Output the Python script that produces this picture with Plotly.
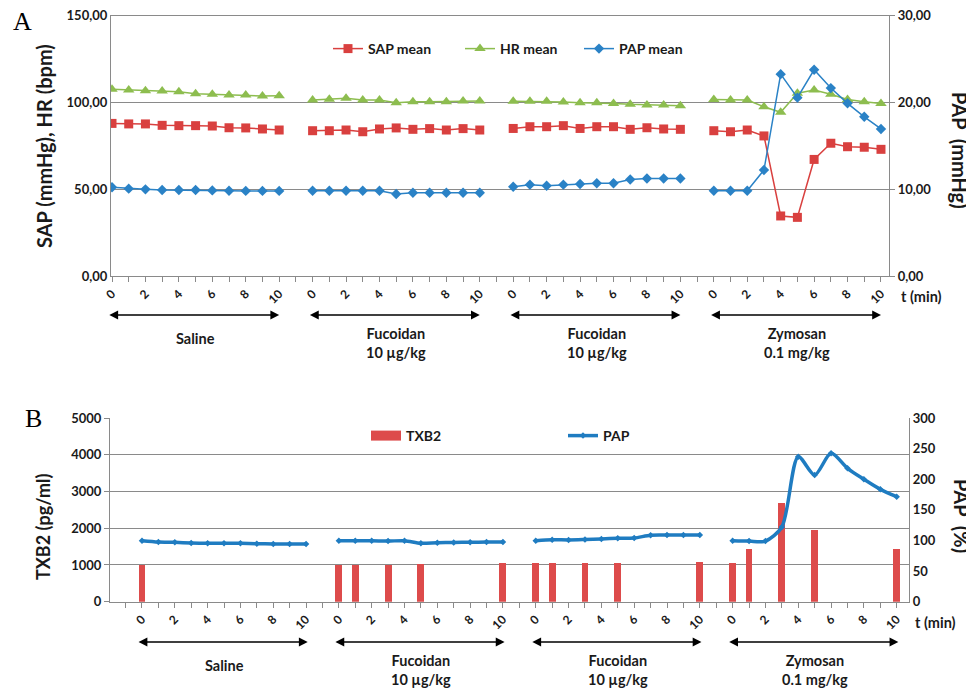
import plotly.graph_objects as go

# ---------------- data ----------------
group_names = ["Saline", "Fucoidan<br>10 µg/kg", "Fucoidan<br>10 µg/kg", "Zymosan<br>0.1 mg/kg"]
t_min = list(range(11))
tick_labels = ["0", "", "2", "", "4", "", "6", "", "8", "", "10"]

# Panel A (left axis: SAP, HR ; right axis: PAP mmHg)
sap_mean = [
    [87.7, 87.4, 87.4, 86.6, 86.4, 86.4, 86.2, 85.2, 85.1, 84.5, 83.9],
    [83.5, 83.5, 83.9, 82.9, 84.5, 85.1, 84.3, 84.7, 83.9, 84.7, 83.9],
    [84.8, 85.8, 85.8, 86.4, 84.8, 85.8, 85.8, 84.3, 85.2, 84.5, 84.3],
    [83.5, 82.9, 83.9, 80.5, 34.5, 33.7, 67.0, 76.3, 74.3, 74.0, 72.8],
]
hr_mean = [
    [107.3, 106.9, 106.5, 106.3, 105.9, 104.8, 104.4, 104.0, 104.0, 103.4, 103.6],
    [101.1, 101.6, 102.1, 101.1, 101.1, 99.6, 100.2, 100.2, 100.2, 100.6, 100.6],
    [100.4, 100.4, 100.4, 100.0, 99.6, 99.6, 99.2, 98.7, 98.3, 98.3, 97.9],
    [101.5, 101.1, 101.1, 97.3, 94.1, 105.0, 106.9, 104.4, 101.5, 100.2, 99.2],
]
pap_mean = [
    [10.2, 10.04, 9.96, 9.88, 9.88, 9.88, 9.84, 9.8, 9.78, 9.78, 9.78],
    [9.8, 9.8, 9.8, 9.8, 9.8, 9.42, 9.57, 9.57, 9.57, 9.57, 9.57],
    [10.26, 10.5, 10.38, 10.5, 10.58, 10.66, 10.66, 11.1, 11.2, 11.2, 11.2],
    [9.8, 9.8, 9.8, 12.18, 23.2, 20.5, 23.7, 21.6, 19.85, 18.3, 16.9],
]

# Panel B (left axis: TXB2 pg/ml bars ; right axis: PAP %)
txb2_times = [[0], [0, 1, 3, 5, 10], [0, 1, 3, 5, 10], [0, 1, 3, 5, 10]]
txb2_values = [
    [1000],
    [1000, 1000, 1000, 1027, 1046],
    [1046, 1046, 1064, 1064, 1090],
    [1063, 1436, 2698, 1954, 1436],
]
pap_pct = [
    [99.6, 97.5, 97.0, 95.9, 95.4, 95.4, 95.4, 94.8, 94.2, 94.2, 94.2],
    [99.6, 99.6, 99.6, 99.0, 99.6, 95.4, 96.4, 96.8, 97.2, 97.3, 97.3],
    [99.6, 101.2, 100.8, 101.5, 102.5, 103.5, 104.0, 108.5, 108.8, 108.8, 108.8],
    [99.6, 99.0, 99.0, 122.0, 236.8, 206.9, 242.3, 217.8, 199.9, 183.5, 171.5],
]

left_a_ticks = [0, 50, 100, 150]
left_a_text = ["0,00", "50,00", "100,00", "150,00"]
right_a_ticks = [0, 10, 20, 30]
right_a_text = ["0,00", "10,00", "20,00", "30,00"]
left_b_ticks = [0, 1000, 2000, 3000, 4000, 5000]
right_b_ticks = [0, 50, 100, 150, 200, 250, 300]

# ---------------- helpers ----------------
STEP = 12  # 11 time points + 1 empty slot between groups


def series(groups):
    xs, ys = [], []
    for g, vals in enumerate(groups):
        xs += [g * STEP + t for t in t_min] + [None]
        ys += list(vals) + [None]
    return xs, ys


RED = "#d9403f"
GREEN = "#8dbd4f"
BLUE = "#2a82c6"
BAR_RED = "#dd4b4b"
LINE_BLUE = "#1f7cc1"
GRID = "#8a8a8a"
FONT = "Lato"
TXT = "#1a1a1a"

fig = go.Figure()

# ---- Panel A ----
x, y = series(sap_mean)
fig.add_trace(go.Scatter(x=x, y=y, name="SAP mean", mode="lines+markers",
                         line=dict(color=RED, width=1.5),
                         marker=dict(symbol="square", size=9, color=RED),
                         xaxis="x", yaxis="y", legend="legend"))
x, y = series(hr_mean)
fig.add_trace(go.Scatter(x=x, y=y, name="HR mean", mode="lines+markers",
                         line=dict(color=GREEN, width=1.5),
                         marker=dict(symbol="triangle-up", size=10, color=GREEN),
                         xaxis="x", yaxis="y", legend="legend2"))
x, y = series(pap_mean)
fig.add_trace(go.Scatter(x=x, y=y, name="PAP mean", mode="lines+markers",
                         line=dict(color=BLUE, width=1.5),
                         marker=dict(symbol="diamond", size=8, color=BLUE),
                         xaxis="x", yaxis="y2", legend="legend3"))

# ---- Panel B ----
bx, by = [], []
for g in range(4):
    bx += [g * STEP + t for t in txb2_times[g]]
    by += txb2_values[g]
fig.add_trace(go.Bar(x=bx, y=by, name="TXB2", marker=dict(color=BAR_RED, line=dict(width=0)),
                     width=0.42, xaxis="x2", yaxis="y3", showlegend=False))
# legend proxy for bars (wide flat rectangle)
fig.add_trace(go.Scatter(x=[None], y=[None], name="TXB2", mode="lines",
                         line=dict(color=BAR_RED, width=10),
                         xaxis="x2", yaxis="y3", legend="legend4"))
x, y = series(pap_pct)
fig.add_trace(go.Scatter(x=x, y=y, name="PAP", mode="lines+markers",
                         line=dict(color=LINE_BLUE, width=3.5, shape="spline", smoothing=0.8),
                         marker=dict(symbol="diamond", size=5, color=LINE_BLUE),
                         xaxis="x2", yaxis="y4", legend="legend5"))

# ---------------- layout (window pixel helpers; page body has an 8px margin) ----------------
OFF = 8
W, H = 974, 691


def px_x(v):
    return (v - OFF) / W


def px_y(v):
    return 1 - (v - OFF) / H


tick_font = dict(family=FONT, size=13, color=TXT, weight="bold")
xtick_font = dict(family=FONT, size=12, color=TXT, weight="bold")

top_vals = list(range(0, 47))
top_text = [tick_labels[v % STEP] if v % STEP <= 10 else "" for v in top_vals]
bot_vals = list(range(-1, 47))
bot_text = [tick_labels[v % STEP] if (v >= 0 and v % STEP <= 10) else "" for v in bot_vals]

common_x = dict(showgrid=False, zeroline=False, showline=True, linecolor=GRID, linewidth=1.2,
                ticks="outside", ticklen=5, tickcolor=GRID, tickangle=-45, tickfont=xtick_font,
                automargin=False, ticklabeloverflow="allow")
common_y = dict(zeroline=False, showline=True, linecolor=GRID, linewidth=1.2, tickfont=tick_font,
                automargin=False, ticklabeloverflow="allow", tickcolor=GRID, ticklen=5)

TOP_A = 15
fig.update_layout(
    width=W, height=H, margin=dict(l=0, r=0, t=0, b=0, autoexpand=False),
    paper_bgcolor="white", plot_bgcolor="white",
    showlegend=True,
    xaxis=dict(domain=[px_x(111), px_x(889)], range=[-0.06, 46.48], anchor="y",
               tickvals=top_vals, ticktext=top_text, **common_x),
    yaxis=dict(domain=[px_y(276), px_y(TOP_A)], range=[0, 150], anchor="x",
               tickvals=left_a_ticks, ticktext=left_a_text,
               showgrid=True, gridcolor=GRID, gridwidth=1.2, ticks="", **common_y),
    yaxis2=dict(overlaying="y", side="right", range=[0, 30], anchor="x",
                tickvals=right_a_ticks, ticktext=right_a_text,
                showgrid=False, ticks="outside", **common_y),
    xaxis2=dict(domain=[px_x(110), px_x(909)], range=[-1.95, 46.75], anchor="y3",
                tickvals=bot_vals, ticktext=bot_text, **common_x),
    yaxis3=dict(domain=[px_y(601.7), px_y(418)], range=[0, 5000], anchor="x2",
                tickvals=left_b_ticks, ticktext=[str(v) for v in left_b_ticks],
                showgrid=True, gridcolor=GRID, gridwidth=1.2, ticks="outside", **common_y),
    yaxis4=dict(overlaying="y3", side="right", range=[0, 300], anchor="x2",
                tickvals=right_b_ticks, ticktext=[str(v) for v in right_b_ticks],
                showgrid=False, ticks="", **common_y),
    bargap=0,
    # top border of panel A (the 150 gridline)
    shapes=[dict(type="line", xref="paper", yref="paper", x0=px_x(111), x1=px_x(894),
                 y0=px_y(TOP_A + 0.5), y1=px_y(TOP_A + 0.5),
                 line=dict(color=GRID, width=1.2), layer="above")],
)

leg_font = dict(family=FONT, size=14, color=TXT, weight="bold")


def leg(xp, yp):
    return dict(x=px_x(xp), y=px_y(yp), xanchor="left", yanchor="middle", xref="paper", yref="paper",
                orientation="h", bgcolor="rgba(0,0,0,0)", font=leg_font, itemwidth=30)


fig.update_layout(legend=leg(328, 49), legend2=leg(460, 49), legend3=leg(579, 49),
                  legend4=leg(366, 436), legend5=leg(563, 436))

# ---------------- annotations ----------------
ann = []
title_font = dict(family=FONT, size=20, color=TXT, weight="bold")
title_font_b = dict(family=FONT, size=18, color=TXT, weight="bold")
grp_font = dict(family=FONT, size=14.5, color=TXT, weight="bold")


def note(text, xw, yw, font, angle=0):
    return dict(text=text, x=px_x(xw), y=px_y(yw), xref="paper", yref="paper", showarrow=False,
                xanchor="center", yanchor="middle", textangle=angle, font=font)


serif = dict(family="Liberation Serif", size=26, color="black")
ann.append(note("A", 22, 22, serif))
ann.append(note("B", 33, 418, serif))
ann.append(note("SAP (mmHg), HR (bpm)", 44, 146, title_font, -90))
ann.append(note("PAP  (mmHg)", 960, 150, title_font, 90))
ann.append(note("TXB2 (pg/ml)", 43, 527, title_font_b, -90))
ann.append(note("PAP  (%)", 962, 516, title_font, 90))
ann.append(note("t (min)", 921, 297, grp_font))
ann.append(note("t (min)", 935, 622, grp_font))

arrow = dict(text="", showarrow=True, arrowhead=2, arrowside="end+start", arrowsize=1.1,
             arrowwidth=1.6, arrowcolor="black", standoff=0, startstandoff=0, ay=0, ayref="pixel")
for g, name in enumerate(group_names):
    two = "<br>" in name
    # panel A
    ann.append(dict(x=g * STEP + 10, y=px_y(315), xref="x", yref="paper",
                    ax=g * STEP - 0.25, axref="x", **arrow))
    ann.append(dict(text=name, x=g * STEP + 5, y=px_y(343 if two else 338), xref="x", yref="paper",
                    xanchor="center", yanchor="middle", showarrow=False, font=grp_font))
    # panel B
    ann.append(dict(x=g * STEP + 10.1, y=px_y(642), xref="x2", yref="paper",
                    ax=g * STEP - 0.3, axref="x2", **arrow))
    ann.append(dict(text=name, x=g * STEP + 5, y=px_y(670 if two else 665), xref="x2", yref="paper",
                    xanchor="center", yanchor="middle", showarrow=False, font=grp_font))

fig.update_layout(annotations=ann)

fig.write_html("out.html")
